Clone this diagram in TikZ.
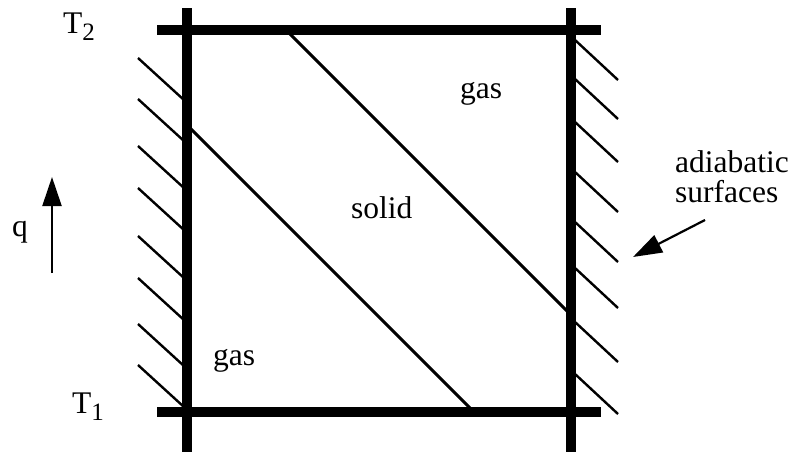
\documentclass[tikz,border=0pt]{standalone}
\usepackage{fontspec}
\setmainfont{Liberation Serif}
\usetikzlibrary{arrows.meta}
\begin{document}
\begin{tikzpicture}[x=1pt,y=-1pt,
  wall/.style={line width=9.5pt},
  phase/.style={line width=3pt},
  hatch/.style={line width=2.4pt},
  lbl/.style={inner sep=0pt,anchor=base west,font=\fontsize{31.5}{36}\selectfont},
  arr/.style={line width=2.2pt,-{Triangle[length=29pt,width=19pt]}}]
\useasboundingbox (0,0) rectangle (794,455);
% walls
\coordinate (LT) at (187,8);  \coordinate (LB) at (187,452);
\coordinate (RT) at (571,8);  \coordinate (RB) at (571,452);
\coordinate (TL) at (157,30); \coordinate (TR) at (601,30);
\coordinate (BL) at (157,412);\coordinate (BR) at (601,412);
\draw[wall] (LT) -- (LB);
\draw[wall] (RT) -- (RB);
\draw[wall] (TL) -- (TR);
\draw[wall] (BL) -- (BR);
% phase boundaries
\coordinate (U1) at (286,30); \coordinate (U2) at (569,313);
\coordinate (D1) at (188,126); \coordinate (D2) at (472,410);
\draw[phase] (U1) -- (U2);
\draw[phase] (D1) -- (D2);
% hatching left
\foreach \y in {58,99,146,188,236,278,324,365}
  \draw[hatch] (138,\y) -- ++(46,42);
% hatching right
\foreach \y in {40,79,122,172,222,268,322,374}
  \draw[hatch] (575,\y) -- ++(43,40);
% labels
\node[lbl] (t2) at (63,33) {T\raisebox{-7pt}{\fontsize{25}{25}\selectfont 2}};
\node[lbl] (t1) at (72,413) {T\raisebox{-7pt}{\fontsize{25}{25}\selectfont 1}};
\node[lbl] (q) at (12,236) {q};
\node[lbl] (gasup) at (460,98) {gas};
\node[lbl] (solid) at (351,218) {solid};
\node[lbl] (gaslo) at (213,365) {gas};
\node[lbl] (adi) at (675,172) {adiabatic};
\node[lbl] (surf) at (675,202) {surfaces};
% arrows
\coordinate (qa) at (52,273); \coordinate (qb) at (52,177);
\draw[arr] (qa) -- (qb);
\coordinate (aa) at (705,220); \coordinate (ab) at (633,257);
\draw[arr] (aa) -- (ab);
\end{tikzpicture}
\end{document}
